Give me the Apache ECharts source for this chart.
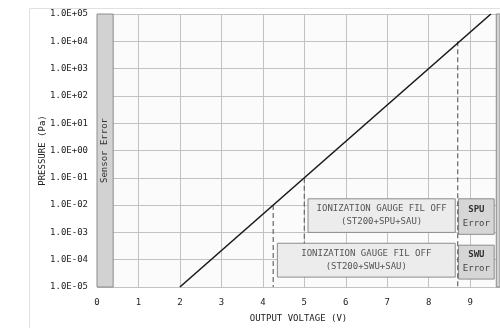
<!DOCTYPE html>
<html>
<head>
<meta charset="utf-8">
<script src="https://cdn.jsdelivr.net/npm/echarts@6/dist/echarts.min.js"></script>
<style>html,body{margin:0;padding:0;background:#fff}#c{width:500px;height:328px}</style>
</head>
<body>
<div id="c"></div>
<script>
// ---- data ----
var xTicks = [0, 1, 2, 3, 4, 5, 6, 7, 8, 9];
var yTickLabels = ['1.0E-05','1.0E-04','1.0E-03','1.0E-02','1.0E-01','1.0E+00','1.0E+01','1.0E+02','1.0E+03','1.0E+04','1.0E+05'];
var lineX = [2, 9.5];
var lineY = [1e-5, 1e5];
var dashX = [4.25, 5, 8.7];
var dashTop = [1e-2, 1e-1, 1e4];
var dashBottom = [1e-5, 4e-4, 1e-5];
var boxLabels = ['IONIZATION GAUGE FIL OFF\n(ST200+SPU+SAU)', 'IONIZATION GAUGE FIL OFF\n(ST200+SWU+SAU)', '{b|SPU}\n{n|Error}', '{b|SWU}\n{n|Error}'];
var boxX1 = [5.09, 4.35, 8.72, 8.72];
var boxX2 = [8.64, 8.64, 9.58, 9.58];
var boxYTop = [1.7e-2, 4e-4, 1.7e-2, 3.4e-4];
var boxYBottom = [1e-3, 2.3e-5, 8.5e-4, 1.95e-5];
var sensorBand = [0, 0.39];
var rightBand = [9.63, 9.72];
var yRange = [1e-5, 1e5];

var FONT = 'DejaVu Sans Mono';
var chart = echarts.init(document.getElementById('c'), null, {renderer: 'canvas'});

var boxAreas = boxLabels.map(function (lab, i) {
  var err = i >= 2;
  return [{
    coord: [boxX1[i], boxYTop[i]],
    itemStyle: {color: err ? '#d6d6d6' : '#ececec', borderColor: '#8c8c8c', borderWidth: 1},
    label: {
      show: true, position: 'inside', formatter: lab,
      fontFamily: FONT, fontSize: 9, color: '#555', lineHeight: 13, align: 'center',
      rich: {
        b: {fontFamily: FONT, fontSize: 9, fontWeight: 'bold', color: '#333', lineHeight: 14},
        n: {fontFamily: FONT, fontSize: 9, color: '#444', lineHeight: 14}
      }
    }
  }, {coord: [boxX2[i], boxYBottom[i]]}];
});

var dashSeries = dashX.map(function (x, i) {
  return {
    type: 'line', data: [[x, dashTop[i]], [x, dashBottom[i]]],
    symbol: 'none', silent: true, z: 3,
    lineStyle: {color: '#666', width: 1.2, type: [5, 3]}
  };
});

chart.setOption({
  animation: false,
  backgroundColor: '#fff',
  graphic: [{
    type: 'rect', left: 27, top: 6, shape: {width: 600, height: 400},
    style: {fill: 'none', stroke: '#e0e0e0', lineWidth: 1}, z: -10
  }],
  grid: {left: 97, right: 0, top: 14, bottom: 39, show: true, backgroundColor: '#fbfbfb', borderWidth: 0},
  xAxis: {
    type: 'value', min: 0, max: rightBand[1], interval: 1,
    name: 'OUTPUT VOLTAGE (V)', nameLocation: 'middle', nameGap: 27, nameMoveOverlap: false,
    nameTextStyle: {fontFamily: FONT, fontSize: 9, color: '#222'},
    axisLine: {show: false}, axisTick: {show: false},
    axisLabel: {
      fontFamily: FONT, fontSize: 9, color: '#222', margin: 11, showMaxLabel: false,
      formatter: function (v) { return xTicks.indexOf(v) >= 0 ? String(v) : ''; }
    },
    splitLine: {show: true, lineStyle: {color: '#c2c2c2', width: 1}}
  },
  yAxis: {
    type: 'log', logBase: 10, min: yRange[0], max: yRange[1], interval: 1, splitNumber: 10,
    name: 'PRESSURE (Pa)', nameLocation: 'middle', nameGap: 50, nameRotate: 90, nameMoveOverlap: false,
    nameTextStyle: {fontFamily: FONT, fontSize: 9, color: '#222'},
    axisLine: {show: false}, axisTick: {show: false},
    axisLabel: {
      fontFamily: FONT, fontSize: 9, color: '#222', margin: 9,
      formatter: function (v) { return yTickLabels[Math.round(Math.log10(v)) + 5]; }
    },
    splitLine: {show: true, lineStyle: {color: '#c2c2c2', width: 1}}
  },
  series: [{
    type: 'line', data: [], z: 2, silent: true,
    markArea: {
      silent: true,
      data: [
        [{
          coord: [sensorBand[0], yRange[1]],
          itemStyle: {color: '#d2d2d2', borderColor: '#8c8c8c', borderWidth: 1},
          label: {show: true, position: 'inside', formatter: 'Sensor Error', rotate: 90,
            fontFamily: FONT, fontSize: 9, color: '#333'}
        }, {coord: [sensorBand[1], yRange[0]]}],
        [{
          coord: [rightBand[0], yRange[1]],
          itemStyle: {color: '#d2d2d2', borderColor: '#8c8c8c', borderWidth: 1},
          label: {show: false}
        }, {coord: [rightBand[1], yRange[0]]}]
      ].concat(boxAreas)
    }
  }, {
    type: 'line', data: lineX.map(function (x, i) { return [x, lineY[i]]; }),
    symbol: 'none', silent: true, z: 4,
    lineStyle: {color: '#1a1a1a', width: 1.6}
  }].concat(dashSeries)
});
</script>
</body>
</html>
